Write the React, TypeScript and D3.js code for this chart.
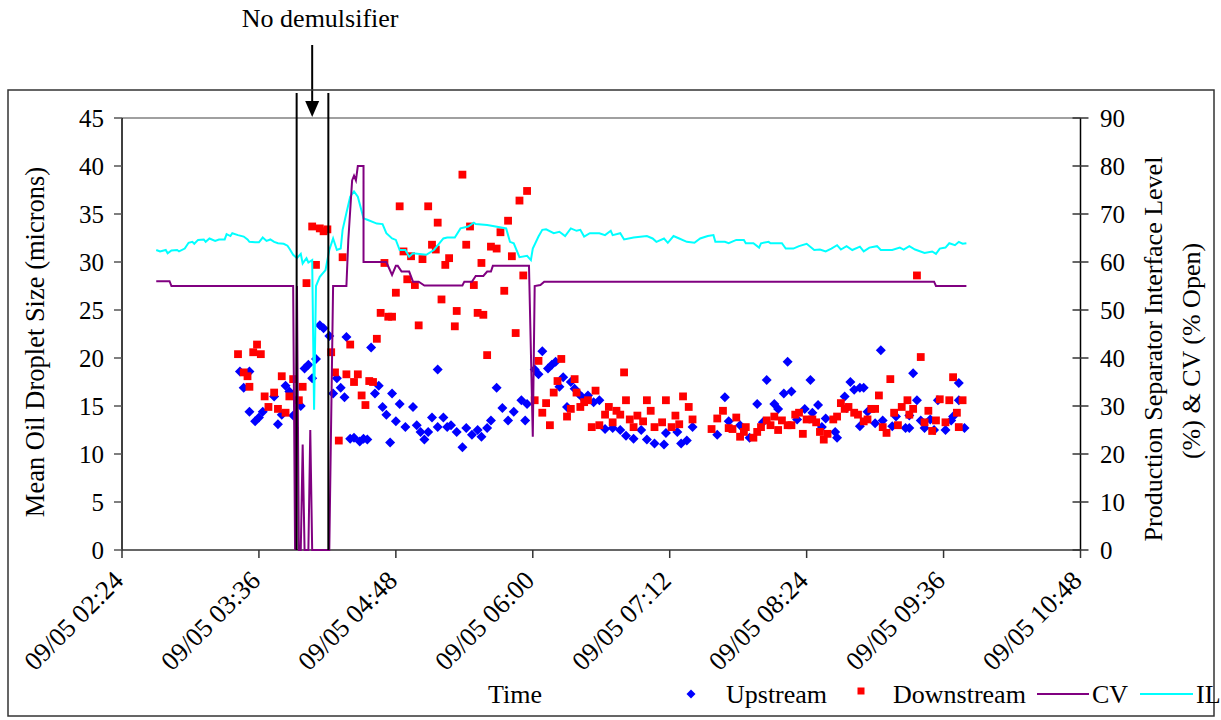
import React from 'react';
import * as d3 from 'd3';

// --- data (time of day on 09/05, value) ---
const upstream: [string, number][] = [
  ["03:26", 18.6], ["03:31", 18.6], ["03:28", 16.9], ["03:31", 14.4], ["03:34", 13.4], ["03:36", 13.8],
  ["03:38", 14.4], ["03:44", 16.0], ["03:50", 17.1], ["03:52", 16.5], ["03:48", 14.1], ["03:46", 13.1],
  ["03:54", 14.0], ["03:58", 15.0], ["04:00", 18.9], ["04:02", 19.3], ["04:04", 17.9], ["04:06", 19.9],
  ["04:08", 23.4], ["04:10", 23.1], ["04:13", 22.3], ["04:15", 16.3], ["04:17", 17.9], ["04:19", 16.9],
  ["04:21", 15.9], ["04:22", 22.2], ["04:24", 11.6], ["04:26", 11.7], ["04:29", 11.3], ["04:31", 11.6],
  ["04:33", 11.5], ["04:35", 21.1], ["04:37", 16.3], ["04:39", 17.1], ["04:41", 14.9], ["04:43", 14.1],
  ["04:45", 11.2], ["04:46", 16.3], ["04:48", 13.4], ["04:50", 15.2], ["04:53", 12.8], ["04:57", 14.9],
  ["04:59", 13.0], ["05:01", 12.3], ["05:03", 11.5], ["05:05", 12.3], ["05:07", 13.8], ["05:10", 12.8],
  ["05:10", 18.8], ["05:13", 13.8], ["05:15", 12.8], ["05:17", 13.0], ["05:20", 12.3], ["05:23", 10.7],
  ["05:25", 12.7], ["05:28", 12.0], ["05:31", 12.5], ["05:33", 11.8], ["05:36", 12.7], ["05:38", 13.5],
  ["05:41", 16.9], ["05:44", 14.8], ["05:47", 13.5], ["05:50", 14.4], ["05:54", 15.6], ["05:57", 15.2],
  ["05:56", 13.5], ["06:01", 18.8], ["06:03", 18.3], ["06:05", 20.7], ["06:08", 18.9], ["06:10", 19.3],
  ["06:12", 19.6], ["06:14", 17.0], ["06:16", 18.0], ["06:18", 14.9], ["06:20", 17.5], ["06:22", 16.8],
  ["06:24", 16.3], ["06:26", 15.9], ["06:29", 16.1], ["06:32", 15.4], ["06:35", 15.6], ["06:38", 12.6],
  ["06:42", 12.7], ["06:46", 12.5], ["06:49", 11.9], ["06:53", 11.6], ["06:57", 12.5], ["07:00", 11.5],
  ["07:04", 11.1], ["07:09", 11.0], ["07:10", 12.2], ["07:16", 12.3], ["07:18", 11.1], ["07:21", 11.4],
  ["07:24", 12.8], ["07:37", 12.0], ["07:41", 15.9], ["07:43", 13.4], ["07:49", 13.0], ["07:54", 11.7],
  ["07:58", 15.2], ["08:01", 13.3], ["08:03", 17.7], ["08:07", 15.2], ["08:09", 14.7], ["08:12", 16.3],
  ["08:14", 19.6], ["08:16", 16.5], ["08:19", 13.6], ["08:23", 14.7], ["08:26", 17.7], ["08:27", 14.3],
  ["08:30", 15.1], ["08:32", 12.8], ["08:34", 13.7], ["08:39", 12.3], ["08:40", 11.7], ["08:44", 16.0],
  ["08:45", 14.8], ["08:47", 17.5], ["08:49", 16.7], ["08:52", 16.9], ["08:52", 12.9], ["08:54", 16.9],
  ["08:56", 14.4], ["09:00", 13.2], ["09:03", 20.8], ["09:04", 13.5], ["09:09", 12.9], ["09:11", 13.9],
  ["09:16", 12.7], ["09:18", 12.7], ["09:18", 14.0], ["09:20", 18.4], ["09:22", 15.6], ["09:24", 13.5],
  ["09:26", 12.7], ["09:29", 13.6], ["09:31", 12.5], ["09:33", 15.6], ["09:37", 12.5], ["09:40", 13.5],
  ["09:41", 13.9], ["09:44", 15.6], ["09:44", 17.4], ["09:47", 12.7],
];

const downstream: [string, number][] = [
  ["03:25", 20.4], ["03:35", 21.4], ["03:33", 20.6], ["03:37", 20.4], ["03:28", 18.5], ["03:30", 18.1],
  ["03:31", 17.0], ["03:48", 18.1], ["03:54", 17.8], ["03:39", 16.0], ["03:44", 16.4], ["03:52", 16.0],
  ["03:41", 14.9], ["03:46", 14.7], ["03:50", 14.3], ["03:59", 17.0], ["03:57", 15.6], ["04:01", 27.8],
  ["04:04", 33.7], ["04:06", 29.7], ["04:08", 33.5], ["04:10", 33.2], ["04:12", 33.4], ["04:14", 20.6],
  ["04:16", 18.5], ["04:18", 11.4], ["04:20", 30.5], ["04:22", 18.3], ["04:24", 21.4], ["04:26", 17.5],
  ["04:28", 18.3], ["04:30", 16.1], ["04:32", 15.1], ["04:34", 17.6], ["04:36", 17.5], ["04:38", 22.0],
  ["04:40", 24.7], ["04:42", 29.9], ["04:44", 24.3], ["04:46", 24.3], ["04:48", 26.8], ["04:50", 35.8],
  ["04:52", 31.1], ["04:54", 28.2], ["04:56", 30.6], ["04:58", 27.6], ["05:00", 23.4], ["05:02", 30.3],
  ["05:05", 35.8], ["05:07", 31.8], ["05:09", 31.3], ["05:10", 34.1], ["05:12", 26.1], ["05:14", 29.7],
  ["05:16", 30.4], ["05:19", 23.3], ["05:20", 24.9], ["05:23", 39.1], ["05:25", 31.8], ["05:27", 33.7],
  ["05:29", 27.6], ["05:31", 24.7], ["05:33", 29.9], ["05:34", 24.5], ["05:36", 20.3], ["05:38", 31.6],
  ["05:41", 31.4], ["05:43", 33.1], ["05:45", 27.0], ["05:47", 34.3], ["05:49", 30.6], ["05:51", 22.6],
  ["05:53", 36.4], ["05:55", 28.6], ["05:57", 37.4], ["06:01", 15.6], ["06:03", 19.7], ["06:05", 14.3],
  ["06:07", 15.3], ["06:09", 13.0], ["06:11", 16.4], ["06:13", 17.6], ["06:15", 19.9], ["06:18", 13.9],
  ["06:20", 14.7], ["06:22", 17.8], ["06:23", 16.4], ["06:25", 14.9], ["06:27", 15.4], ["06:29", 15.6],
  ["06:31", 12.8], ["06:33", 16.6], ["06:35", 13.0], ["06:38", 14.1], ["06:40", 14.9], ["06:42", 13.3],
  ["06:44", 14.5], ["06:46", 14.1], ["06:48", 18.5], ["06:49", 15.6], ["06:51", 13.6], ["06:53", 12.8],
  ["06:55", 14.0], ["06:58", 13.4], ["07:00", 15.6], ["07:02", 14.5], ["07:04", 12.8], ["07:08", 13.3],
  ["07:10", 15.6], ["07:13", 12.8], ["07:15", 14.0], ["07:17", 13.1], ["07:19", 16.0], ["07:22", 14.9],
  ["07:24", 13.6], ["07:34", 12.6], ["07:37", 13.7], ["07:40", 14.5], ["07:43", 12.7], ["07:45", 12.6],
  ["07:47", 13.8], ["07:49", 11.8], ["07:51", 12.3], ["07:52", 12.8], ["07:56", 11.7], ["07:58", 12.3],
  ["08:00", 12.8], ["08:03", 13.5], ["08:05", 13.0], ["08:07", 13.9], ["08:09", 12.5], ["08:11", 13.5],
  ["08:14", 13.0], ["08:16", 13.0], ["08:18", 14.1], ["08:20", 14.3], ["08:22", 12.1], ["08:24", 13.6],
  ["08:27", 13.6], ["08:29", 13.3], ["08:31", 12.3], ["08:33", 11.5], ["08:35", 12.1], ["08:38", 13.6],
  ["08:40", 13.9], ["08:42", 15.3], ["08:44", 14.7], ["08:46", 14.9], ["08:49", 14.3], ["08:51", 14.1],
  ["08:54", 13.4], ["08:56", 13.6], ["08:58", 14.7], ["09:00", 14.7], ["09:02", 16.1], ["09:04", 12.8],
  ["09:06", 12.2], ["09:08", 17.8], ["09:10", 14.3], ["09:12", 13.0], ["09:14", 14.9], ["09:17", 15.6],
  ["09:18", 14.1], ["09:20", 14.7], ["09:22", 28.6], ["09:24", 20.1], ["09:26", 13.3], ["09:28", 14.5],
  ["09:30", 12.4], ["09:32", 13.5], ["09:34", 15.7], ["09:37", 13.3], ["09:39", 15.6], ["09:41", 18.0],
  ["09:43", 14.3], ["09:44", 12.8], ["09:46", 15.6],
];

// control valve opening, % (right axis)
const cv: [string, number][] = [
  ["02:42", 56], ["02:49", 56], ["02:50", 55], ["03:54", 55], ["03:55", 0], ["03:56", 55], ["03:57", 0],
  ["03:58", 0], ["03:59", 22], ["04:00", 0], ["04:02", 0], ["04:03", 25], ["04:04", 0], ["04:13", 0],
  ["04:15", 55], ["04:22", 55], ["04:23", 64.6], ["04:25", 77], ["04:26", 78], ["04:27", 77], ["04:28", 80],
  ["04:31", 80], ["04:31", 60], ["04:43", 60], ["04:46", 57.3], ["04:48", 59.2], ["04:49", 59.2],
  ["04:51", 58], ["04:55", 58], ["04:57", 55.9], ["05:00", 55.9], ["05:03", 55.1], ["05:23", 55.1],
  ["05:24", 55.9], ["05:28", 55.9], ["05:30", 57.1], ["05:34", 57.1], ["05:36", 58], ["05:38", 58],
  ["05:39", 59.2], ["05:58", 59.2], ["06:00", 23.6], ["06:01", 55], ["06:04", 55.2], ["06:06", 55.9],
  ["09:31", 55.9], ["09:32", 55], ["09:48", 55],
];

// interface level, % (right axis)
const il: [string, number][] = [
  ["02:42", 62.5], ["02:44", 62.2], ["02:47", 62.5], ["02:48", 61.8], ["02:50", 62.4], ["02:53", 62.5],
  ["02:54", 62.2], ["02:57", 62.8], ["02:59", 64.0], ["03:01", 64.2], ["03:02", 63.8], ["03:04", 64.6],
  ["03:07", 64.7], ["03:08", 64.2], ["03:10", 64.9], ["03:13", 64.4], ["03:15", 64.7], ["03:18", 64.7],
  ["03:19", 65.8], ["03:21", 65.4], ["03:22", 66.0], ["03:25", 65.6], ["03:28", 65.3], ["03:30", 64.7],
  ["03:31", 64.2], ["03:34", 64.1], ["03:36", 64.1], ["03:38", 65.1], ["03:40", 64.4], ["03:42", 64.7],
  ["03:44", 64.2], ["03:46", 63.9], ["03:49", 63.8], ["03:51", 63.4], ["03:52", 62.8], ["03:54", 61.5],
  ["03:56", 60.8], ["03:58", 61.7], ["03:59", 59.7], ["04:01", 60.8], ["04:02", 59.9], ["04:04", 60.4],
  ["04:05", 29.2], ["04:06", 55.0], ["04:08", 56.9], ["04:11", 58.3], ["04:13", 62.5], ["04:15", 64.9],
  ["04:17", 62.5], ["04:19", 62.8], ["04:20", 66.7], ["04:22", 70.2], ["04:24", 73.6], ["04:26", 74.7],
  ["04:28", 73.6], ["04:31", 69.1], ["04:33", 68.8], ["04:38", 68.0], ["04:41", 67.9], ["04:43", 66.0],
  ["04:46", 64.9], ["04:48", 64.6], ["04:50", 62.5], ["04:53", 62.5], ["04:55", 61.1], ["04:57", 61.8],
  ["05:04", 61.5], ["05:08", 62.5], ["05:13", 64.9], ["05:15", 65.1], ["05:19", 65.1], ["05:22", 67.0],
  ["05:26", 67.4], ["05:29", 68.2], ["05:30", 67.9], ["05:36", 67.7], ["05:39", 67.5], ["05:46", 67.0],
  ["05:48", 64.2], ["05:50", 63.9], ["05:53", 61.0], ["05:57", 61.3], ["05:59", 60.4], ["06:00", 62.8],
  ["06:03", 65.3], ["06:05", 66.7], ["06:07", 66.8], ["06:11", 66.0], ["06:14", 66.3], ["06:17", 65.4],
  ["06:20", 67.0], ["06:23", 66.5], ["06:25", 66.7], ["06:27", 65.3], ["06:30", 66.0], ["06:35", 66.0],
  ["06:38", 65.6], ["06:41", 66.5], ["06:42", 65.6], ["06:46", 66.0], ["06:48", 64.7], ["06:53", 65.1],
  ["07:00", 65.4], ["07:03", 64.9], ["07:05", 64.2], ["07:09", 64.9], ["07:11", 64.0], ["07:14", 65.4],
  ["07:17", 64.9], ["07:21", 64.2], ["07:25", 64.0], ["07:28", 64.9], ["07:32", 65.4], ["07:35", 65.6],
  ["07:36", 64.2], ["07:41", 64.2], ["07:43", 63.9], ["07:47", 64.6], ["07:51", 64.6], ["07:52", 63.9],
  ["07:56", 63.9], ["07:59", 63.0], ["08:00", 63.9], ["08:04", 64.2], ["08:05", 63.9], ["08:11", 63.9],
  ["08:13", 62.8], ["08:17", 62.8], ["08:20", 63.3], ["08:24", 63.8], ["08:28", 62.5], ["08:31", 62.6],
  ["08:34", 62.2], ["08:37", 62.8], ["08:40", 63.5], ["08:42", 62.6], ["08:45", 63.3], ["08:48", 62.5],
  ["08:52", 63.2], ["08:54", 62.2], ["08:57", 63.0], ["09:01", 63.3], ["09:03", 62.5], ["09:09", 62.5],
  ["09:13", 63.0], ["09:15", 62.6], ["09:18", 63.3], ["09:21", 62.6], ["09:26", 61.9], ["09:30", 62.2],
  ["09:32", 61.7], ["09:34", 62.8], ["09:37", 63.0], ["09:39", 63.9], ["09:42", 63.5], ["09:44", 64.2],
  ["09:46", 63.8], ["09:48", 63.9],
];

const leftTicks = [0, 5, 10, 15, 20, 25, 30, 35, 40, 45];
const rightTicks = [0, 10, 20, 30, 40, 50, 60, 70, 80, 90];
const noDemulsifier = ["03:55:50", "04:12:30"]; // boundaries of the trial window
const arrowAt = "04:04";

const FONT = "'Liberation Serif', 'Times New Roman', serif";

// parse "HH:MM" or "HH:MM:SS" on 09/05
const parseT = (s: string) => {
  const [h, m, sec] = s.split(":").map(Number);
  return new Date(2005, 8, 5, h, m, sec || 0);
};

export default function App() {
  const W = 1221, H = 720;
  const left = 122, right = 1080.5, top = 118, bottom = 550;

  const t0 = parseT("02:24");
  const t1 = parseT("10:48");
  const x = d3.scaleTime().domain([t0, t1]).range([left, right]);
  const yL = d3.scaleLinear().domain([0, 45]).range([bottom, top]);
  const yR = d3.scaleLinear().domain([0, 90]).range([bottom, top]);

  const xTicks = d3.range(0, 8).map(i => new Date(+t0 + i * 72 * 60000));
  const fmt = d3.timeFormat("%m/%d %H:%M");

  const line = d3.line<[string, number]>()
    .x(d => x(parseT(d[0])))
    .y(d => yR(d[1]));

  const diamond = (r: number) => `M0,${-r}L${r},0L0,${r}L${-r},0Z`;
  const sq = 7.8;
  const ax = x(parseT(arrowAt));

  return (
    <svg width={W} height={H} style={{ position: 'absolute', left: 0, top: 0, background: '#fff' }}
      fontFamily={FONT}>
      <rect x={0} y={0} width={W} height={H} fill="#fff" />

      {/* annotation */}
      <text x={ax + 8} y={27} fontSize={26} textAnchor="middle" fill="#000">No demulsifier</text>
      <line x1={ax} x2={ax} y1={45} y2={102} stroke="#000" strokeWidth={2} />
      <path d={`M${ax - 7},101L${ax + 7},101L${ax},117Z`} fill="#000" />

      {/* chart area border */}
      <rect x={8} y={90} width={1206} height={626} fill="none" stroke="#333" strokeWidth={1.5} />

      {/* plot frame */}
      <line x1={left} x2={right} y1={top} y2={top} stroke="#808080" strokeWidth={1.5} />

      {/* left axis */}
      <line x1={left} x2={left} y1={top} y2={bottom} stroke="#000" strokeWidth={1.5} />
      {leftTicks.map(t => (
        <g key={"l" + t}>
          <line x1={left - 8} x2={left} y1={yL(t)} y2={yL(t)} stroke="#555" strokeWidth={1.5} />
          <text x={104} y={yL(t)} dy="0.35em" textAnchor="end" fontSize={25}>{t}</text>
        </g>
      ))}
      <text transform={`translate(44,342) rotate(-90)`} textAnchor="middle" fontSize={26.5}>
        Mean Oil Droplet Size (microns)
      </text>

      {/* right axis */}
      <line x1={right} x2={right} y1={top} y2={bottom} stroke="#000" strokeWidth={1.5} />
      {rightTicks.map(t => (
        <g key={"r" + t}>
          <line x1={right - 8} x2={right + 8} y1={yR(t)} y2={yR(t)} stroke="#333" strokeWidth={1.5} />
          <text x={1100} y={yR(t)} dy="0.35em" textAnchor="start" fontSize={25}>{t}</text>
        </g>
      ))}
      <text transform={`translate(1162,349) rotate(-90)`} textAnchor="middle" fontSize={26}>
        Production Separator Interface Level
      </text>
      <text transform={`translate(1200,351) rotate(-90)`} textAnchor="middle" fontSize={26}>
        (%) &amp; CV (% Open)
      </text>

      {/* bottom axis */}
      <line x1={left} x2={right} y1={bottom} y2={bottom} stroke="#333" strokeWidth={1.5} />
      {xTicks.map((t, i) => (
        <g key={"x" + i}>
          <line x1={x(t)} x2={x(t)} y1={bottom} y2={bottom + 8} stroke="#333" strokeWidth={1.5} />
          <text transform={`translate(${x(t) + 3},${bottom + 32}) rotate(-45)`} textAnchor="end" fontSize={26.5}>
            {fmt(t)}
          </text>
        </g>
      ))}

      {/* scatter series */}
      <g fill="#0000ff">
        {upstream.map((d, i) => (
          <path key={"u" + i} d={diamond(5)} transform={`translate(${x(parseT(d[0]))},${yL(d[1])})`} />
        ))}
      </g>
      <g fill="#ff0000">
        {downstream.map((d, i) => (
          <rect key={"d" + i} x={x(parseT(d[0])) - sq / 2} y={yL(d[1]) - sq / 2} width={sq} height={sq} />
        ))}
      </g>

      {/* line series on the secondary axis */}
      <path d={line(il) || ""} fill="none" stroke="#00ffff" strokeWidth={2} />
      <path d={line(cv) || ""} fill="none" stroke="#800080" strokeWidth={2} />

      {/* trial window markers */}
      {noDemulsifier.map(s => (
        <line key={s} x1={x(parseT(s))} x2={x(parseT(s))} y1={93} y2={bottom} stroke="#000" strokeWidth={2} />
      ))}

      {/* x title + legend */}
      <text x={488} y={703} fontSize={26}>Time</text>
      <path d={diamond(4.5)} transform="translate(691,694)" fill="#0000ff" />
      <text x={726} y={703} fontSize={26}>Upstream</text>
      <rect x={857.5} y={687.5} width={7} height={7} fill="#ff0000" />
      <text x={893} y={703} fontSize={26}>Downstream</text>
      <line x1={1037} x2={1089} y1={694} y2={694} stroke="#800080" strokeWidth={2} />
      <text x={1092} y={703} fontSize={26}>CV</text>
      <line x1={1140} x2={1193} y1={694} y2={694} stroke="#00ffff" strokeWidth={2} />
      <text x={1196} y={703} fontSize={26}>IL</text>
    </svg>
  );
}
